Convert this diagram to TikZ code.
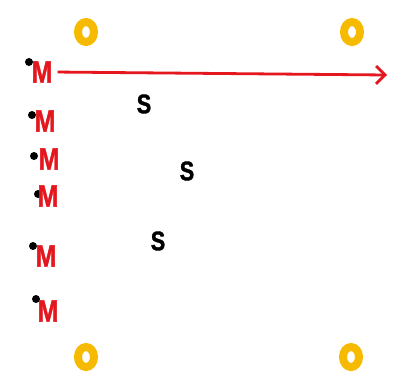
\documentclass[tikz,border=0pt]{standalone}
\usepackage{fontspec}
\newfontfamily\narrowsans[FakeStretch=0.8,FakeBold=1.3]{Liberation Sans}
\usetikzlibrary{arrows.meta,shapes.geometric}
\definecolor{mred}{RGB}{228,22,30}
\definecolor{ringgold}{RGB}{246,186,0}
\tikzset{
  mlabel/.style={text=mred, font=\narrowsans\bfseries\fontsize{31}{31}\selectfont, inner sep=1pt},
  slabel/.style={text=black, font=\narrowsans\bfseries\fontsize{27}{27}\selectfont, inner sep=1pt},
  blackdot/.style={circle, fill=black, inner sep=0pt, minimum size=8pt},
  ring/.style={draw=ringgold, line width=8pt, ellipse, minimum width=16pt, minimum height=20pt},
  arrowline/.style={draw=mred, line width=2.8pt, shorten <=4pt,
    -{Straight Barb[length=9pt,width=18pt,line width=2.8pt]}}
}
\begin{document}
\begin{tikzpicture}[x=1pt,y=-1pt]
  \useasboundingbox (0,0) rectangle (411,389);
  \fill[white] (0,0) rectangle (411,389);

  % corner rings
  \node[ring] (r1) at (86,32) {};
  \node[ring] (r2) at (352,32) {};
  \node[ring] (r3) at (86,357) {};
  \node[ring] (r4) at (351,357) {};

  % M markers with their dots
  \node[blackdot] (d1) at (29,62) {};
  \node[mlabel] (m1) at (42,72) {M};
  \node[blackdot] (d2) at (32,115) {};
  \node[mlabel] (m2) at (45,121) {M};
  \node[blackdot] (d3) at (34,156) {};
  \node[mlabel] (m3) at (49,159) {M};
  \node[blackdot] (d4) at (38,194) {};
  \node[mlabel] (m4) at (48,196) {M};
  \node[blackdot] (d5) at (33,246) {};
  \node[mlabel] (m5) at (46,256) {M};
  \node[blackdot] (d6) at (36,299) {};
  \node[mlabel] (m6) at (48,311) {M};

  % S labels
  \node[slabel] (s1) at (144,104) {S};
  \node[slabel] (s2) at (187,171) {S};
  \node[slabel] (s3) at (158,241) {S};

  % arrow
  \coordinate (aend) at (387,75);
  \draw[arrowline] (m1.east) -- (aend);
\end{tikzpicture}
\end{document}
